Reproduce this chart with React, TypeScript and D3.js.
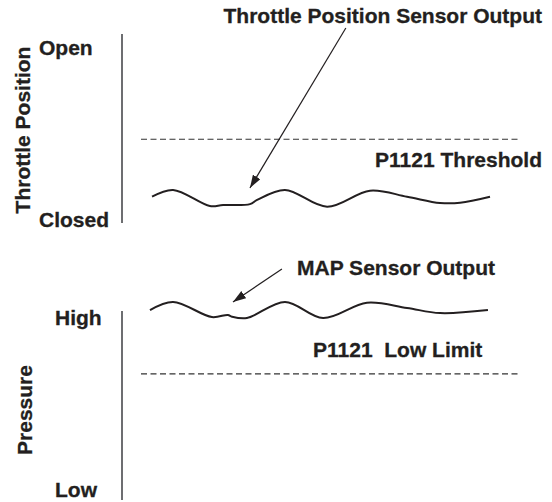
import React, { useEffect, useRef } from 'react';
import * as d3 from 'd3';

// time runs 0..100 across both panels
const tpsTime = [0.6, 6.8, 17.6, 21.5, 29.4, 31.5, 39.7, 52.1, 64.7, 75.6, 85.3, 91.2, 100];
const tpsValue = [13.9, 17.5, 9.0, 9.5, 10.0, 12.2, 17.5, 8.6, 17.1, 13.9, 10.6, 10.7, 13.9];
const tpsThreshold = 44.3;

const mapTime = [0, 6.8, 18.2, 22.9, 24.1, 28.5, 39.7, 50.9, 63.8, 75.6, 85.3, 99.4];
const mapValue = [100.5, 104.8, 96.8, 97.9, 97.0, 96.3, 104.8, 96.3, 104.4, 101.6, 98.9, 100.5];
const mapLowLimit = 66.7;

// arrow annotations [t0, v0, t1, v1] in panel units
const tpsArrow = [57.6, 103.2, 29.4, 18.5];
const mapArrow = [38.8, 122.2, 24.4, 104.8];

const W = 552;
const H = 502;
const FONT = '"Liberation Sans", Arial, Helvetica, sans-serif';
const INK = '#231f20';

function App() {
  const ref = useRef<SVGSVGElement>(null);

  useEffect(() => {
    const svg = d3.select(ref.current);
    svg.selectAll('*').remove();

    const x = d3.scaleLinear().domain([0, 100]).range([150, 490]);
    const yTop = d3.scaleLinear().domain([0, 100]).range([223, 34]);
    const yBot = d3.scaleLinear().domain([0, 100]).range([500, 311]);

    svg.append('defs').append('marker')
      .attr('id', 'head')
      .attr('markerUnits', 'userSpaceOnUse')
      .attr('viewBox', '0 0 12 8')
      .attr('refX', 12).attr('refY', 4)
      .attr('markerWidth', 13).attr('markerHeight', 9)
      .attr('orient', 'auto')
      .append('path').attr('d', 'M0,0L12,4L0,8Z').attr('fill', INK);

    const panel = (y: d3.ScaleLinear<number, number>, times: number[], vals: number[], dash: number, arrow: number[]) => {
      // vertical axis
      svg.append('line')
        .attr('x1', 122).attr('x2', 122)
        .attr('y1', y(100)).attr('y2', y(0))
        .attr('stroke', '#6d6e71').attr('stroke-width', 2);

      svg.append('line')
        .attr('x1', 141).attr('x2', 520)
        .attr('y1', y(dash)).attr('y2', y(dash))
        .attr('stroke', '#333').attr('stroke-width', 1.2)
        .attr('stroke-dasharray', '6,3.5');

      const line = d3.line<number>()
        .x((d, i) => x(times[i]))
        .y((d) => y(d))
        .curve(d3.curveCatmullRom.alpha(0.5));
      svg.append('path')
        .attr('d', line(vals))
        .attr('fill', 'none')
        .attr('stroke', INK)
        .attr('stroke-width', 2);

      svg.append('line')
        .attr('x1', x(arrow[0])).attr('y1', y(arrow[1]))
        .attr('x2', x(arrow[2])).attr('y2', y(arrow[3]))
        .attr('stroke', INK).attr('stroke-width', 1.2)
        .attr('marker-end', 'url(#head)');
    };

    panel(yTop, tpsTime, tpsValue, tpsThreshold, tpsArrow);
    panel(yBot, mapTime, mapValue, mapLowLimit, mapArrow);

    const label = (txt: string, tx: number, ty: number, anchor = 'start', rot = 0) => {
      svg.append('text')
        .attr('transform', `translate(${tx},${ty}) rotate(${rot})`)
        .attr('text-anchor', anchor)
        .attr('font-family', FONT)
        .attr('font-weight', 'bold')
        .attr('font-size', 21)
        .attr('fill', INK)
        .attr('stroke', INK)
        .attr('stroke-width', 0.3)
        .style('white-space', 'pre')
        .text(txt);
    };

    label('Throttle Position Sensor Output', 542, 23, 'end');
    label('P1121 Threshold', 542, 167, 'end');
    label('Open', 39, 55);
    label('Closed', 39, 227);
    label('Throttle Position', 30, 130, 'middle', -90);
    label('MAP Sensor Output', 297, 275);
    label('P1121  Low Limit', 313, 357);
    label('High', 55, 325);
    label('Low', 55, 497);
    label('Pressure', 32, 410, 'middle', -90);
  }, []);

  return (
    <svg ref={ref} width={W} height={H}
      style={{ position: 'absolute', left: 0, top: 0, background: '#fff' }} />
  );
}

export default App;
